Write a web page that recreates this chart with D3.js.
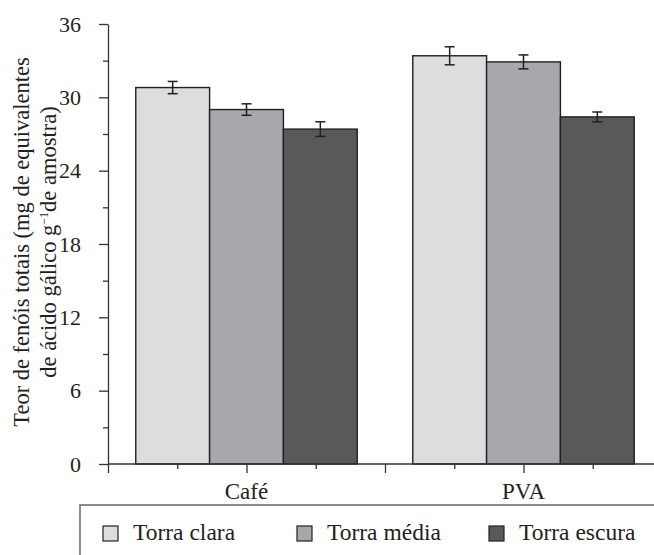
<!DOCTYPE html>
<html>
<head>
<meta charset="utf-8">
<script src="https://cdn.jsdelivr.net/npm/d3@7"></script>
<style>
  body { margin: 0; background: #fff; }
</style>
</head>
<body>
<svg id="chart" width="654" height="555" font-family="Liberation Serif"></svg>
<script>
const categories = ["Café", "PVA"];
const series = ["Torra clara", "Torra média", "Torra escura"];
const means = [
  [30.8, 29.0, 27.4],   // Café
  [33.4, 32.9, 28.4]    // PVA
];
const errors = [
  [0.5, 0.47, 0.6],
  [0.74, 0.57, 0.4]
];
const yTicks = [0, 6, 12, 18, 24, 30, 36];
const colors = ["#dcdddf", "#a7a8ab", "#58595b"];

const FONT = "'Liberation Serif', 'Times New Roman', serif";
const svg = d3.select("#chart");

const y = d3.scaleLinear().domain([0, 36]).range([464, 24]);
// x positions in category units: category i sits at 1 + 2*i
const x = d3.scaleLinear().domain([0, 4]).range([108, 662]);
const barW = x(0.533) - x(0);

// bars
categories.forEach((cat, ci) => {
  const center = 1 + 2 * ci;
  const g = svg.append("g");
  g.selectAll("rect")
    .data(means[ci])
    .enter()
    .append("rect")
    .attr("x", (d, i) => x(center) + (i - 1.5) * barW)
    .attr("y", d => y(d))
    .attr("width", barW)
    .attr("height", d => y(0) - y(d))
    .attr("fill", (d, i) => colors[i])
    .attr("stroke", "#231f20")
    .attr("stroke-width", 1.4);

  // error bars
  const eg = g.selectAll(".err")
    .data(means[ci].map((m, i) => ({ m, e: errors[ci][i], i })))
    .enter()
    .append("g")
    .attr("stroke", "#231f20")
    .attr("stroke-width", 1.5);
  const cx = d => x(center) + (d.i - 1) * barW;
  eg.append("line")
    .attr("x1", cx).attr("x2", cx)
    .attr("y1", d => y(d.m + d.e)).attr("y2", d => y(d.m - d.e));
  eg.append("line")
    .attr("x1", d => cx(d) - 5).attr("x2", d => cx(d) + 5)
    .attr("y1", d => y(d.m + d.e)).attr("y2", d => y(d.m + d.e));
  eg.append("line")
    .attr("x1", d => cx(d) - 5).attr("x2", d => cx(d) + 5)
    .attr("y1", d => y(d.m - d.e)).attr("y2", d => y(d.m - d.e));
});

// y axis
const yAxis = svg.append("g")
  .attr("transform", "translate(108,0)")
  .call(d3.axisLeft(y).tickValues(yTicks).tickSize(9).tickPadding(18).tickSizeOuter(0));
svg.append("g")
  .attr("transform", "translate(108,0)")
  .call(d3.axisLeft(y).tickValues([3, 9, 15, 21, 27, 33]).tickSize(5).tickFormat("").tickSizeOuter(0))
  .select(".domain").remove();

// x axis
const xAxis = svg.append("g")
  .attr("transform", "translate(0,464)")
  .call(d3.axisBottom(x).tickValues([0, 1, 2, 3]).tickSize(9).tickFormat("").tickSizeOuter(0));
xAxis.select(".domain").attr("d", "M108,0H654");
svg.append("g")
  .attr("transform", "translate(0,464)")
  .call(d3.axisBottom(x).tickValues([0.5, 1.5, 2.5, 3.5]).tickSize(5).tickFormat("").tickSizeOuter(0))
  .select(".domain").remove();

svg.selectAll(".tick line, .domain").attr("stroke", "#333").attr("stroke-width", 1.3);
yAxis.attr("font-family", null);
yAxis.selectAll(".tick text")
  .style("font-family", FONT)
  .attr("font-size", 22)
  .attr("fill", "#231f20");

// category labels
svg.selectAll(".cat")
  .data(categories)
  .enter()
  .append("text")
  .attr("x", (d, i) => x(1 + 2 * i))
  .attr("y", 499)
  .attr("text-anchor", "middle")
  .style("font-family", FONT)
  .attr("font-size", 23)
  .attr("fill", "#231f20")
  .text(d => d);

// y axis title
const title = svg.append("text")
  .attr("transform", "translate(29,242) rotate(-90)")
  .attr("text-anchor", "middle")
  .style("font-family", FONT)
  .attr("font-size", 22.5)
  .attr("fill", "#231f20");
title.append("tspan").attr("x", 0).attr("dy", 0)
  .text("Teor de fenóis totais (mg de equivalentes");
const t2 = title.append("tspan").attr("x", 0).attr("dy", 27);
t2.append("tspan").text("de ácido gálico g");
t2.append("tspan").attr("font-size", 12).attr("dy", -8).text("−1");
t2.append("tspan").attr("dy", 8).text("de amostra)");

// legend
svg.append("rect")
  .attr("x", 80).attr("y", 505)
  .attr("width", 575).attr("height", 60)
  .attr("fill", "none")
  .attr("stroke", "#6d6e71")
  .attr("stroke-width", 1.6);

const legendX = [103, 297, 489];
const leg = svg.selectAll(".leg")
  .data(series)
  .enter()
  .append("g")
  .attr("transform", (d, i) => `translate(${legendX[i]},526)`);
leg.append("rect")
  .attr("width", 15).attr("height", 15)
  .attr("fill", (d, i) => colors[i])
  .attr("stroke", "#231f20")
  .attr("stroke-width", 1.2);
leg.append("text")
  .attr("x", 30).attr("y", 14)
  .style("font-family", FONT)
  .attr("font-size", 23.5)
  .attr("fill", "#231f20")
  .text(d => d);
</script>
</body>
</html>
